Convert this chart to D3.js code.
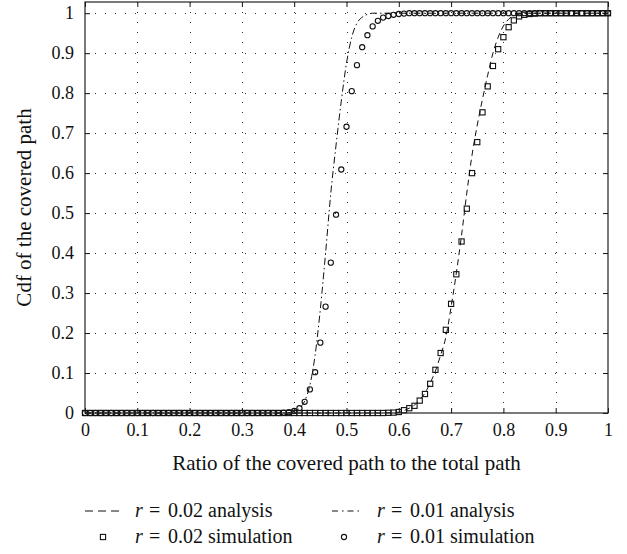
<!DOCTYPE html>
<html><head><meta charset="utf-8">
<script src="https://cdn.jsdelivr.net/npm/d3@7"></script>
<style>
body{margin:0;background:#fff;}
svg text{font-family:"Liberation Serif","Times New Roman",serif !important;fill:#111;}
</style></head>
<body><svg id="c" width="627" height="554"></svg>
<script>
// ---- data ----
const simX = [0,0.01,0.02,0.03,0.04,0.05,0.06,0.07,0.08,0.09,0.10,0.11,0.12,0.13,0.14,0.15,0.16,0.17,0.18,0.19,0.20,0.21,0.22,0.23,0.24,0.25,0.26,0.27,0.28,0.29,0.30,0.31,0.32,0.33,0.34,0.35,0.36,0.37,0.38,0.39,0.40,0.41,0.42,0.43,0.44,0.45,0.46,0.47,0.48,0.49,0.50,0.51,0.52,0.53,0.54,0.55,0.56,0.57,0.58,0.59,0.60,0.61,0.62,0.63,0.64,0.65,0.66,0.67,0.68,0.69,0.70,0.71,0.72,0.73,0.74,0.75,0.76,0.77,0.78,0.79,0.80,0.81,0.82,0.83,0.84,0.85,0.86,0.87,0.88,0.89,0.90,0.91,0.92,0.93,0.94,0.95,0.96,0.97,0.98,0.99,1.00];
// r = 0.01 simulation (circles)
const sim01 = [0,0,0,0,0,0,0,0,0,0, 0,0,0,0,0,0,0,0,0,0, 0,0,0,0,0,0,0,0,0,0, 0,0,0,0,0,0,0,0,0.001,0.002,
  0.005,0.012,0.028,0.059,0.102,0.176,0.266,0.376,0.496,0.609,
  0.716,0.805,0.870,0.915,0.945,0.967,0.981,0.989,0.993,0.996,
  0.998,0.999,1,1,1,1,1,1,1,1, 1,1,1,1,1,1,1,1,1,1, 1,1,1,1,1,1,1,1,1,1, 1,1,1,1,1,1,1,1,1,1, 1];
// r = 0.02 simulation (squares)
const sim02 = [0,0,0,0,0,0,0,0,0,0, 0,0,0,0,0,0,0,0,0,0, 0,0,0,0,0,0,0,0,0,0, 0,0,0,0,0,0,0,0,0,0,
  0,0,0,0,0,0,0,0,0,0, 0,0,0,0,0,0,0,0,0.0005,0.001,
  0.0025,0.007,0.012,0.018,0.031,0.0475,0.073,0.108,0.150,0.208,
  0.273,0.347,0.429,0.511,0.600,0.6775,0.752,0.817,0.868,0.910,
  0.940,0.965,0.982,0.992,0.996,0.998,0.999,1,1,1, 1,1,1,1,1,1,1,1,1,1, 1];
// r = 0.01 analysis (dash-dot)
const ana01X = [0,0.36,0.38,0.39,0.40,0.41,0.42,0.43,0.44,0.45,0.46,0.47,0.48,0.49,0.50,0.51,0.52,0.53,0.54,0.55,0.58,1];
const ana01Y = [0,0,0,0.001,0.004,0.012,0.03,0.07,0.145,0.26,0.40,0.55,0.67,0.78,0.875,0.94,0.975,0.99,0.997,1,1,1];
// r = 0.02 analysis (dashed)
const ana02X = [0,0.56,0.58,0.60,0.61,0.62,0.63,0.64,0.65,0.66,0.67,0.68,0.69,0.70,0.71,0.72,0.73,0.74,0.75,0.76,0.77,0.78,0.79,0.80,0.81,0.82,0.83,0.84,0.87,1];
const ana02Y = [0,0,0.0005,0.002,0.006,0.012,0.02,0.033,0.05,0.075,0.105,0.145,0.19,0.265,0.35,0.445,0.55,0.645,0.72,0.785,0.845,0.9,0.94,0.968,0.985,0.994,0.998,1,1,1];
const xTicks = [0,0.1,0.2,0.3,0.4,0.5,0.6,0.7,0.8,0.9,1];
const yTicks = [0,0.1,0.2,0.3,0.4,0.5,0.6,0.7,0.8,0.9,1];
const xTickLabels = ["0","0.1","0.2","0.3","0.4","0.5","0.6","0.7","0.8","0.9","1"];
const yTickLabels = ["0","0.1","0.2","0.3","0.4","0.5","0.6","0.7","0.8","0.9","1"];
const xTitle = "Ratio of the covered path to the total path";
const yTitle = "Cdf of the covered path";
const legendItems = [
  {value:"0.02", kind:"analysis", mark:"dash"},
  {value:"0.01", kind:"analysis", mark:"dashdot"},
  {value:"0.02", kind:"simulation", mark:"square"},
  {value:"0.01", kind:"simulation", mark:"circle"}
];

// ---- layout ----
const L = 85, R = 608, T = 2, B = 413;
const svg = d3.select("#c");
const x = d3.scaleLinear().domain([0,1]).range([L,R]);
const y = d3.scaleLinear().domain([0,1.028]).range([B,T]);

// grid
const grid = svg.append("g").attr("stroke","#333").attr("stroke-width",1).attr("stroke-dasharray","1,9");
grid.selectAll(".gx").data(xTicks.slice(1,-1)).join("line")
  .attr("x1",d=>Math.round(x(d))+0.5).attr("x2",d=>Math.round(x(d))+0.5).attr("y1",B).attr("y2",T);
grid.selectAll(".gy").data(yTicks.slice(1)).join("line")
  .attr("y1",d=>Math.round(y(d))+0.5).attr("y2",d=>Math.round(y(d))+0.5).attr("x1",L).attr("x2",R);

// axes
const fs = 18, serif = "Liberation Serif, Times New Roman, serif";
const xAxis = d3.axisBottom(x).tickValues(xTicks).tickFormat((d,i)=>xTickLabels[i]).tickSizeInner(-5).tickSizeOuter(0).tickPadding(10);
const yAxis = d3.axisLeft(y).tickValues(yTicks).tickFormat((d,i)=>yTickLabels[i]).tickSizeInner(-5).tickSizeOuter(0).tickPadding(11);
const gx = svg.append("g").attr("transform",`translate(0,${B})`).call(xAxis);
const gy = svg.append("g").attr("transform",`translate(${L},0)`).call(yAxis);
const gxt = svg.append("g").attr("transform",`translate(0,${T})`).call(d3.axisTop(x).tickValues(xTicks).tickFormat("").tickSizeInner(-5).tickSizeOuter(0));
const gyr = svg.append("g").attr("transform",`translate(${R},0)`).call(d3.axisRight(y).tickValues(yTicks).tickFormat("").tickSizeInner(-5).tickSizeOuter(0));
[gx,gy,gxt,gyr].forEach(g=>{
  g.attr("font-family",serif).attr("font-size",fs);
  g.select(".domain").remove();
  g.selectAll(".tick line").attr("stroke","#111").attr("stroke-width",1);
  g.selectAll(".tick text").attr("font-size",fs).attr("font-family",serif).attr("fill","#111");
});
gx.selectAll(".tick text").attr("dy","0.71em");

// lines
const line = d3.line().x(d=>x(d[0])).y(d=>y(d[1])).curve(d3.curveMonotoneX);
svg.append("path").datum(ana01X.map((v,i)=>[v,ana01Y[i]])).attr("d",line)
  .attr("fill","none").attr("stroke","#111").attr("stroke-width",1).attr("stroke-dasharray","7,3,1.5,3");
svg.append("path").datum(ana02X.map((v,i)=>[v,ana02Y[i]])).attr("d",line)
  .attr("fill","none").attr("stroke","#111").attr("stroke-width",1).attr("stroke-dasharray","6,4");

// markers
const pts02 = simX.map((v,i)=>[v,sim02[i]]);
const pts01 = simX.map((v,i)=>[v,sim01[i]]);
svg.append("g").selectAll("rect").data(pts02).join("rect")
  .attr("x",d=>x(d[0])-2.6).attr("y",d=>y(d[1])-2.6).attr("width",5.2).attr("height",5.2)
  .attr("fill","none").attr("stroke","#111").attr("stroke-width",1.1);
svg.append("g").selectAll("circle").data(pts01).join("circle")
  .attr("cx",d=>x(d[0])).attr("cy",d=>y(d[1])).attr("r",2.6)
  .attr("fill","none").attr("stroke","#111").attr("stroke-width",1.1);

// frame
svg.append("rect").attr("x",L).attr("y",T).attr("width",R-L).attr("height",B-T)
  .attr("fill","none").attr("stroke","#222").attr("stroke-width",1.2);

// titles
svg.append("text").attr("x",(L+R)/2).attr("y",470).attr("text-anchor","middle").attr("font-size",21).text(xTitle);
svg.append("text").attr("transform",`translate(31,${(T+B)/2}) rotate(-90)`).attr("text-anchor","middle").attr("font-size",21).text(yTitle);

// legend
const cols = [{sx:85, tx:135},{sx:332, tx:377}];
const rows = [517, 543];
legendItems.forEach((it,i)=>{
  const c = cols[i%2], ry = rows[Math.floor(i/2)];
  const cy = ry - 6;
  const g = svg.append("g");
  if(it.mark==="dash"){
    g.append("line").attr("x1",c.sx).attr("x2",c.sx+36).attr("y1",cy).attr("y2",cy)
     .attr("stroke","#111").attr("stroke-dasharray","8,5");
  } else if(it.mark==="dashdot"){
    g.append("line").attr("x1",c.sx).attr("x2",c.sx+31).attr("y1",cy).attr("y2",cy)
     .attr("stroke","#111").attr("stroke-dasharray","6,4,1.5,4");
  } else if(it.mark==="square"){
    g.append("rect").attr("x",103-2.6).attr("y",cy-2.6).attr("width",5.2).attr("height",5.2)
     .attr("fill","none").attr("stroke","#111").attr("stroke-width",1.1);
  } else {
    g.append("circle").attr("cx",344).attr("cy",cy).attr("r",2.6)
     .attr("fill","none").attr("stroke","#111").attr("stroke-width",1.1);
  }
  g.append("text").attr("x",c.tx).attr("y",ry).attr("font-size",20).attr("font-style","italic").text("r");
  g.append("text").attr("x",c.tx+14).attr("y",ry).attr("font-size",20).text("=");
  g.append("text").attr("x",c.tx+33).attr("y",ry).attr("font-size",20).text(it.value + " " + it.kind);
});
</script></body></html>
